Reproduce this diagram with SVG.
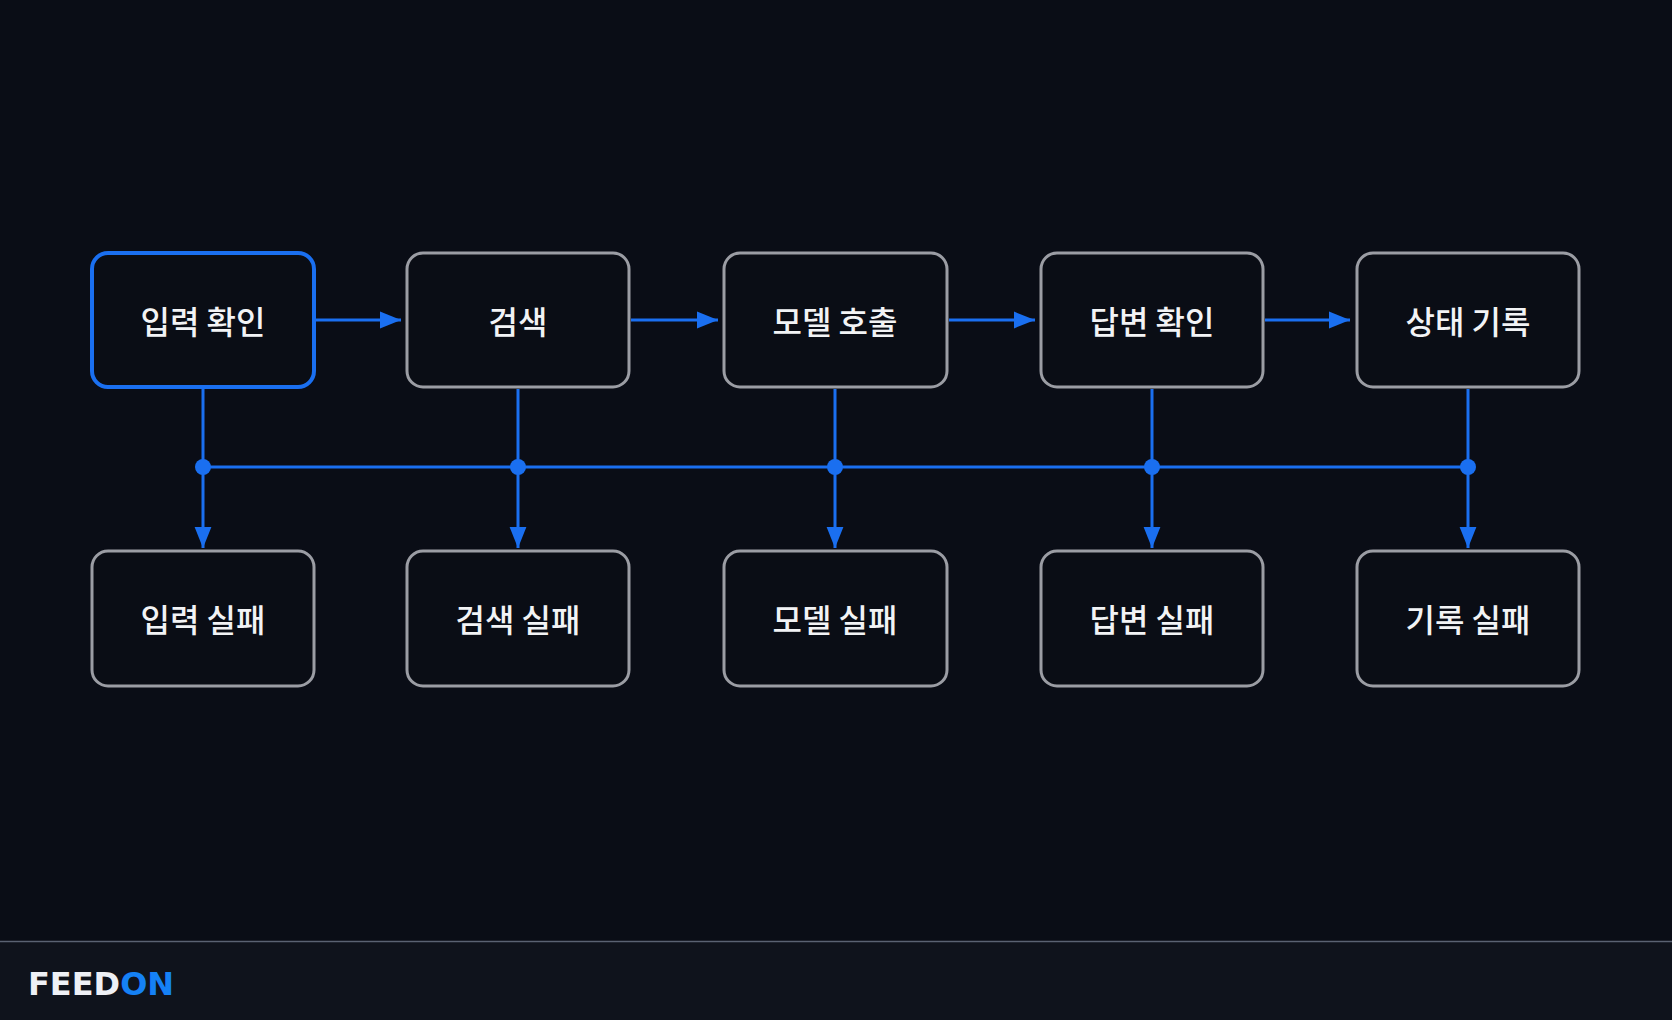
<svg xmlns="http://www.w3.org/2000/svg" width="1672" height="1020" viewBox="0 0 1672 1020">
<style>
.n rect{fill:#0a0d15;stroke:#9b9da4;stroke-width:3}
.n.a rect{stroke:#1a6ff0;stroke-width:4}
.n text{fill:#f2f3f5;font-family:"Noto Sans CJK KR",sans-serif;font-size:32px;font-weight:500;text-anchor:middle;dominant-baseline:central}
.c{stroke:#1a6ff0;stroke-width:3;fill:none}
</style>
<defs>
<marker id="a" viewBox="0 0 10 10" refX="10" refY="5" markerWidth="21" markerHeight="21" orient="auto" markerUnits="userSpaceOnUse"><path d="M0,1L10,5L0,9z" fill="#1a6ff0"/></marker></defs>
<rect width="1672" height="1020" fill="#0a0d16"/>
<rect y="941" width="1672" height="79" fill="#0f131c"/>
<line x1="0" y1="941.5" x2="1672" y2="941.5" stroke="#5a6272" stroke-width="1.5"/>
<g id="connectors">
<path class="c" marker-end="url(#a)" d="M316 320H401"/>
<path class="c" marker-end="url(#a)" d="M631 320H718"/>
<path class="c" marker-end="url(#a)" d="M949 320H1035"/>
<path class="c" marker-end="url(#a)" d="M1265 320H1350"/>
<path class="c" d="M203 467H1468"/>
<path class="c" marker-end="url(#a)" d="M203 389V548"/>
<path class="c" marker-end="url(#a)" d="M518 389V548"/>
<path class="c" marker-end="url(#a)" d="M835 389V548"/>
<path class="c" marker-end="url(#a)" d="M1152 389V548"/>
<path class="c" marker-end="url(#a)" d="M1468 389V548"/>
<g fill="#1a6ff0"><circle cx="203" cy="467" r="8"/><circle cx="518" cy="467" r="8"/><circle cx="835" cy="467" r="8"/><circle cx="1152" cy="467" r="8"/><circle cx="1468" cy="467" r="8"/></g>
</g>
<g id="n1" class="n a"><rect x="92" y="253" width="222" height="134" rx="16"/><text x="203" y="320">입력 확인</text></g>
<g id="n2" class="n"><rect x="407" y="253" width="222" height="134" rx="16"/><text x="518" y="320">검색</text></g>
<g id="n3" class="n"><rect x="724" y="253" width="223" height="134" rx="16"/><text x="835" y="320">모델 호출</text></g>
<g id="n4" class="n"><rect x="1041" y="253" width="222" height="134" rx="16"/><text x="1152" y="320">답변 확인</text></g>
<g id="n5" class="n"><rect x="1357" y="253" width="222" height="134" rx="16"/><text x="1468" y="320">상태 기록</text></g>
<g id="f1" class="n"><rect x="92" y="551" width="222" height="135" rx="16"/><text x="203" y="618">입력 실패</text></g>
<g id="f2" class="n"><rect x="407" y="551" width="222" height="135" rx="16"/><text x="518" y="618">검색 실패</text></g>
<g id="f3" class="n"><rect x="724" y="551" width="223" height="135" rx="16"/><text x="835" y="618">모델 실패</text></g>
<g id="f4" class="n"><rect x="1041" y="551" width="222" height="135" rx="16"/><text x="1152" y="618">답변 실패</text></g>
<g id="f5" class="n"><rect x="1357" y="551" width="222" height="135" rx="16"/><text x="1468" y="618">기록 실패</text></g>
<text x="28" y="995" font-family="DejaVu Sans" font-weight="bold" font-size="32"><tspan fill="#eef0f5">FEED</tspan><tspan fill="#1581f5">ON</tspan></text>
</svg>
